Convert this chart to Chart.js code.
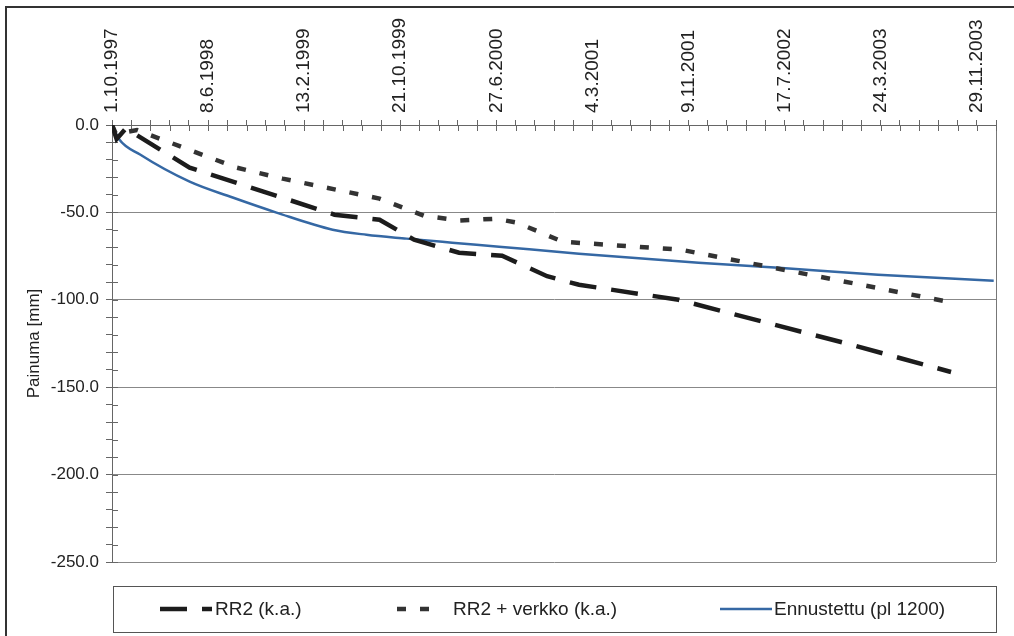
<!DOCTYPE html>
<html><head><meta charset="utf-8">
<script src="https://cdn.jsdelivr.net/npm/chart.js@4.4.1/dist/chart.umd.min.js"></script>
<style>html,body{margin:0;padding:0;background:#fff;}canvas{display:block;}</style>
</head><body>
<canvas id="c" width="1014" height="636"></canvas>
<script>
// Days since 1.10.1997
const tickLabels = ['1.10.1997','8.6.1998','13.2.1999','21.10.1999','27.6.2000','4.3.2001','9.11.2001','17.7.2002','24.3.2003','29.11.2003'];
const seriesNames = ['RR2 (k.a.)', 'RR2 + verkko (k.a.)', 'Ennustettu (pl 1200)'];

const rr2Days   = [0, 12, 36, 202, 579, 696, 786, 903, 1015, 1132, 1215, 1474, 1915, 2183];
const rr2Values = [0, -8.0, -2.0, -24.4, -51.3, -54.2, -65.6, -73.1, -74.8, -86.5, -91.4, -100.0, -125.2, -141.3];

const verkkoDays   = [0, 10, 65, 324, 444, 696, 812, 903, 999, 1054, 1173, 1479, 2175];
const verkkoValues = [0, -5.0, -2.9, -24.4, -30.7, -42.1, -51.9, -54.7, -53.6, -55.9, -66.8, -71.3, -101.1];

const ennusteDays   = [0, 18, 73, 202, 314, 428, 574, 662, 766, 885, 1007, 1215, 1526, 1734, 1993, 2294];
const ennusteValues = [0, -8.0, -16.9, -32.4, -41.5, -50.1, -59.9, -62.8, -65.0, -67.3, -69.6, -73.6, -78.8, -81.7, -85.7, -89.1];

const toPts = (d, v) => d.map((x, i) => ({x, y: v[i]}));

const styles = [
  {color: '#1c1c1c', width: 4.5, dash: [27, 15]},
  {color: '#333333', width: 4.5, dash: [9, 14]},
  {color: '#3568a4', width: 2.5, dash: []}
];
// legend layout: sample start, sample end, text start (offset from plot left)
const legendPos = [[48, 100, 103], [285, 321, 341], [608, 660, 662]];

Chart.defaults.font.family = "'Liberation Sans', Arial, sans-serif";
Chart.defaults.color = '#222';

const framePlugin = {
  id: 'frame',
  beforeDraw(chart) {
    const ctx = chart.ctx;
    ctx.save();
    ctx.fillStyle = '#fff';
    ctx.fillRect(0, 0, chart.width, chart.height);
    ctx.strokeStyle = '#333';
    ctx.lineWidth = 2;
    ctx.strokeRect(6, 7, chart.width + 20, chart.height + 20);
    ctx.restore();
  }
};

const innerTicks = {
  id: 'innerTicks',
  beforeDatasetsDraw(chart) {
    const {ctx, chartArea: a, scales: {x, y}} = chart;
    ctx.save();
    ctx.strokeStyle = '#666';
    ctx.lineWidth = 1;
    ctx.beginPath();
    y.ticks.forEach(t => { const p = Math.round(y.getPixelForValue(t.value)) + 0.5; ctx.moveTo(a.left, p); ctx.lineTo(a.left + 6, p); });
    x.ticks.forEach(t => { const p = Math.round(x.getPixelForValue(t.value)) + 0.5; ctx.moveTo(p, a.top); ctx.lineTo(p, a.top + 6); });
    ctx.stroke();
    ctx.restore();
  }
};

const legendBox = {
  id: 'legendBox',
  afterDraw(chart) {
    const {ctx, chartArea: a} = chart;
    const top = a.bottom + 24, h = 46, left = a.left + 1, right = a.right;
    ctx.save();
    ctx.strokeStyle = '#555';
    ctx.lineWidth = 1;
    ctx.strokeRect(left + 0.5, top + 0.5, right - left, h);
    const cy = top + h / 2;
    ctx.font = "19px 'Liberation Sans', Arial, sans-serif";
    ctx.textBaseline = 'middle';
    ctx.textAlign = 'left';
    seriesNames.forEach((name, i) => {
      const s = styles[i], p = legendPos[i];
      ctx.strokeStyle = s.color;
      ctx.lineWidth = s.width;
      ctx.setLineDash(s.dash);
      ctx.beginPath();
      ctx.moveTo(a.left + p[0], cy);
      ctx.lineTo(a.left + p[1], cy);
      ctx.stroke();
      ctx.setLineDash([]);
      ctx.fillStyle = '#222';
      ctx.fillText(name, a.left + p[2], cy + 1);
    });
    ctx.restore();
  }
};

new Chart(document.getElementById('c'), {
  type: 'line',
  data: {
    datasets: [
      {label: seriesNames[0], data: toPts(rr2Days, rr2Values), borderColor: styles[0].color, borderWidth: styles[0].width, borderDash: styles[0].dash, pointRadius: 0, tension: 0, fill: false},
      {label: seriesNames[1], data: toPts(verkkoDays, verkkoValues), borderColor: styles[1].color, borderWidth: styles[1].width, borderDash: styles[1].dash, pointRadius: 0, tension: 0, fill: false},
      {label: seriesNames[2], data: toPts(ennusteDays, ennusteValues), borderColor: styles[2].color, borderWidth: styles[2].width, pointRadius: 0, cubicInterpolationMode: 'monotone', fill: false}
    ]
  },
  options: {
    responsive: false,
    animation: false,
    layout: {padding: {left: 0, top: 0, right: 18, bottom: 74}},
    plugins: {legend: {display: false}, tooltip: {enabled: false}},
    scales: {
      x: {
        type: 'linear', position: 'top', min: 0, max: 2300,
        afterFit(s) { s.height = 125; },
        ticks: {stepSize: 50, autoSkip: false, minRotation: 90, maxRotation: 90, padding: 7, labelOffset: 22.8, font: {size: 19}, color: '#222',
          callback: v => (v % 250 === 0 ? tickLabels[v / 250] : '')},
        grid: {color: c => (c.tick && c.tick.value === 2300 ? '#777' : 'rgba(0,0,0,0)'), tickColor: '#666', tickLength: 5, lineWidth: 1},
        border: {color: '#666', width: 1}
      },
      y: {
        type: 'linear', min: -250, max: 0,
        afterFit(s) { s.width = 112; },
        ticks: {stepSize: 10, autoSkip: false, padding: 7, font: {size: 17}, color: '#222',
          callback: v => (v % 50 === 0 ? v.toFixed(1) : '')},
        grid: {color: c => (c.tick && c.tick.value % 50 === 0 ? '#888' : 'rgba(0,0,0,0)'), tickColor: '#666', tickLength: 6, lineWidth: 1},
        border: {color: '#666', width: 1},
        title: {display: true, text: 'Painuma [mm]', font: {size: 17}, color: '#222', padding: {top: 24, bottom: 0}}
      }
    }
  },
  plugins: [framePlugin, innerTicks, legendBox]
});
</script>
</body></html>
